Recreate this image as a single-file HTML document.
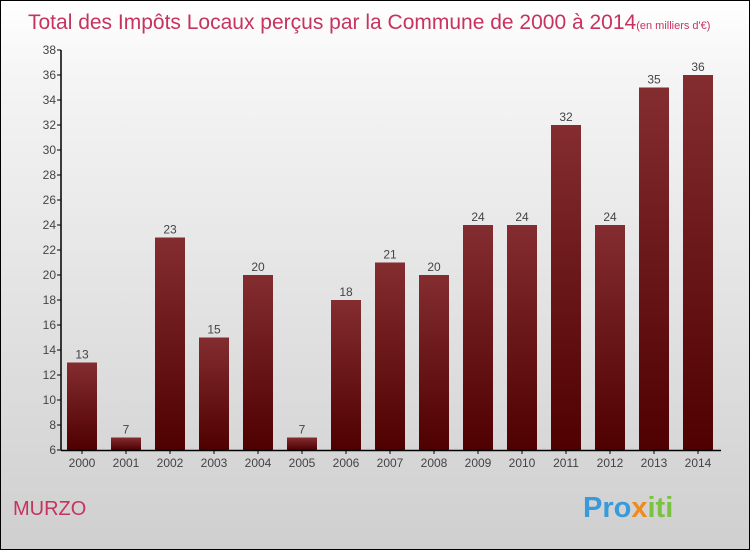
<!DOCTYPE html>
<html><head><meta charset="utf-8"><style>
body{margin:0}
#c{width:748px;height:548px;border:1px solid #000;position:relative;background:linear-gradient(#fff,#f4f4f4 15%,#cfcfcf);font-family:"Liberation Sans",sans-serif;overflow:hidden}
</style></head><body>
<div id="c">
<svg width="748" height="548" xmlns="http://www.w3.org/2000/svg" id="svg">
<defs><linearGradient id="g" x1="0" y1="0" x2="0" y2="1"><stop offset="0" stop-color="#842d31"/><stop offset="1" stop-color="#4f0000"/></linearGradient></defs>
<text x="27" y="28" font-size="21" fill="#c8325f">Total des Impôts Locaux perçus par la Commune de 2000 à 2014<tspan font-size="11">(en milliers d'€)</tspan></text>
<text x="12" y="514" font-size="20" fill="#c8325f">MURZO</text>
<text x="582" y="516" font-size="29" font-weight="bold" fill="#3a9ad9">Pro<tspan fill="#f08a1c">x</tspan><tspan fill="#7cc242">iti</tspan></text>
<g id="plot"></g>
</svg>
</div>
<script>
const years=["2000","2001","2002","2003","2004","2005","2006","2007","2008","2009","2010","2011","2012","2013","2014"];
const values=[13,7,23,15,20,7,18,21,20,24,24,32,24,35,36];
const ticks=[6,8,10,12,14,16,18,20,22,24,26,28,30,32,34,36,38];
const NS="http://www.w3.org/2000/svg";
const g=document.getElementById('plot');
const x0=60,yBase=449,ymin=6,ymax=38,yTop=49;
const y=v=>yBase-(v-ymin)*(yBase-yTop)/(ymax-ymin);
const xc=i=>81+i*44;
function mk(t,a){const e=document.createElementNS(NS,t);for(const k in a)e.setAttribute(k,a[k]);g.appendChild(e);return e;}
ticks.forEach(t=>{
 const l=mk('line',{x1:x0-4,x2:x0,y1:y(t),y2:y(t),stroke:'#000'});
 
 
 const tx=mk('text',{x:x0-5,y:y(t)+4,'text-anchor':'end','font-size':'12',fill:'#444'});
 tx.textContent=t;
 
 
});
values.forEach((v,i)=>{
 const r=mk('rect',{x:xc(i)-15,y:y(v),width:30,height:yBase-y(v),fill:'url(#g)'});
 
 
 const t=mk('text',{x:xc(i),y:y(v)-4,'text-anchor':'middle','font-size':'12',fill:'#444'});
 t.textContent=v;
 
 
 const xl=mk('text',{x:xc(i),y:466,'text-anchor':'middle','font-size':'12',fill:'#444'});
 xl.textContent=years[i];
 
 
 const xt=mk('line',{x1:xc(i),x2:xc(i),y1:yBase,y2:yBase+4,stroke:'#000'});
 
 
});
const ya=mk('line',{x1:x0,x2:x0,y1:yTop,y2:yBase+0.5,stroke:'#000','stroke-width':1.5});


const xa=mk('line',{x1:x0,x2:720,y1:yBase+0.5,y2:yBase+0.5,stroke:'#000','stroke-width':1.5});


</script>
</body></html>
